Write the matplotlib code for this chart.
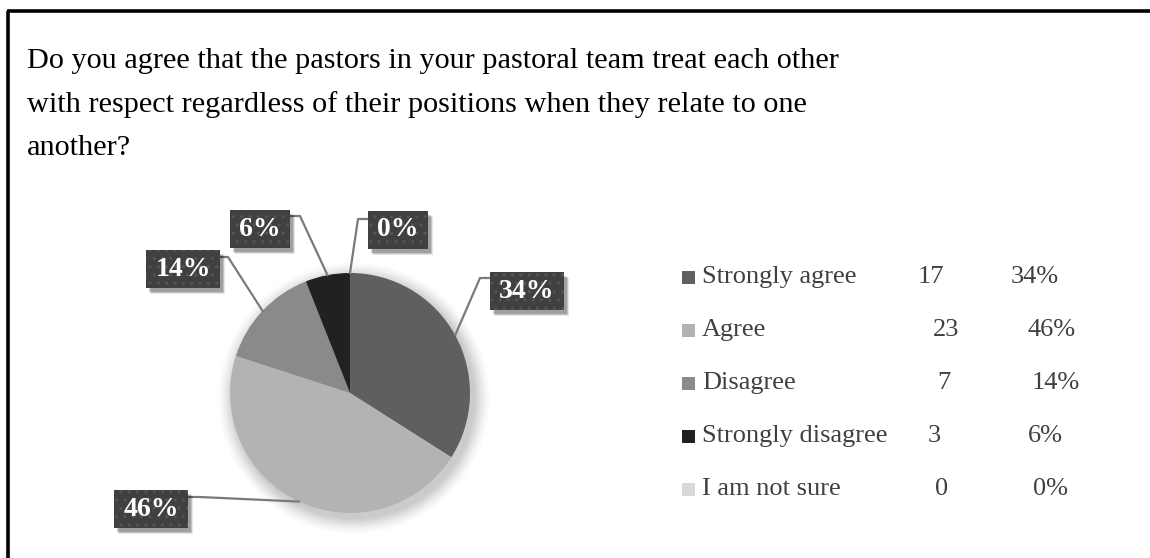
import matplotlib
matplotlib.use("Agg")
import matplotlib.pyplot as plt
from matplotlib.lines import Line2D
from matplotlib.patches import Circle, Rectangle
import numpy as np

# Survey responses
categories = ["Strongly agree", "Agree", "Disagree", "Strongly disagree", "I am not sure"]
counts = [17, 23, 7, 3, 0]
percents = [34, 46, 14, 6, 0]
colors = ["#5f5f5f", "#b3b3b3", "#8a8a8a", "#212121", "#d9d9d9"]

title_lines = ["Do you agree that the pastors in your pastoral team treat each other",
               "with respect regardless of their positions when they relate to one",
               "another?"]

W, H = 1150, 558
fig = plt.figure(figsize=(W / 100, H / 100), dpi=100)
fig.patch.set_facecolor("white")

# one axes spanning the figure, data units = pixels (y measured upward)
ax = fig.add_axes([0, 0, 1, 1])

def py(y):
    """convert a top-down pixel row to the upward data axis"""
    return H - y

serif = ["Liberation Serif", "DejaVu Serif"]

# pie with a soft shadow behind it
cx, cy, R = 350, py(393), 120
for k, a in zip(range(16, 0, -1), np.linspace(0.010, 0.045, 16)):
    ax.add_patch(Circle((cx + 4, cy - 5), R + k, color="#808080", alpha=a, lw=0, zorder=1))

ax.pie(counts, colors=colors, startangle=90, counterclock=False,
       center=(cx, cy), radius=R, wedgeprops=dict(linewidth=0, zorder=2))
ax.set_xlim(0, W)
ax.set_ylim(0, H)
ax.set_aspect("equal")
ax.axis("off")

# frame lines on the left and top
ax.add_line(Line2D([8, 8], [py(11), py(H + 5)], color="black", lw=2.6, solid_capstyle="butt"))
ax.add_line(Line2D([7, W + 5], [py(11), py(11)], color="black", lw=2.6, solid_capstyle="butt"))

# title, one line at a time
for j, line in enumerate(title_lines):
    ax.text(27, py(61 + 43.5 * j), line, fontsize=21.8, family=serif, color="#000000",
            ha="left", va="center")

# data-label boxes: centre positions and leader-line elbows (pixels)
label_pos = [(527, 291), (151, 509), (183, 269), (260, 229), (398, 230)]
elbows = [(480, 278), (200, 497), (228, 257), (300, 216), (358, 219)]
box_edge = [491, 187, 218, 288, 370]

fig.canvas.draw()
renderer = fig.canvas.get_renderer()

fracs = np.cumsum([0] + counts) / sum(counts)
for i, pct in enumerate(percents):
    mid = (fracs[i] + fracs[i + 1]) / 2
    ang = np.deg2rad(90 - 360 * mid)
    ex, ey = cx + R * np.cos(ang), cy + R * np.sin(ang)
    bx, by = elbows[i]
    ax.add_line(Line2D([ex, bx, box_edge[i]], [ey, py(by), py(by)],
                       color="#7a7a7a", lw=1.6, zorder=3))
    lx, ly = label_pos[i]
    t = ax.text(lx, py(ly), f"{pct}%", fontsize=20, fontweight="bold", family=serif,
                color="white", ha="center", va="center", zorder=6)
    tw = t.get_window_extent(renderer).width
    bw, bh = tw + 19, 38
    x0, y0 = lx - bw / 2, py(ly) - bh / 2
    # soft drop shadow
    for dx, dy, a in [(5, -6, 0.10), (4, -5, 0.14), (3, -4, 0.18)]:
        ax.add_patch(Rectangle((x0 + dx, y0 + dy), bw, bh, facecolor="black",
                               alpha=a, lw=0, zorder=4))
    ax.add_patch(Rectangle((x0, y0), bw, bh, facecolor="#404040", lw=0, zorder=5))
    ax.add_patch(Rectangle((x0, y0), bw, bh, facecolor="none", edgecolor="#555555",
                           hatch="..", lw=0, zorder=5))

# legend table
row_y = [277, 330, 383, 436, 489]
count_x = [918, 933, 937, 928, 935]
pct_x = [1011, 1027, 1032, 1028, 1033]
legend_color = "#404040"
for i, name in enumerate(categories):
    y = py(row_y[i])
    ax.add_patch(Rectangle((682, y - 7), 13, 13, facecolor=colors[i], lw=0))
    ax.text(702, y, name, fontsize=19, family=serif, color=legend_color, va="center", ha="left")
    ax.text(count_x[i], y, f"{counts[i]}", fontsize=19, family=serif, color=legend_color,
            va="center", ha="left")
    ax.text(pct_x[i], y, f"{percents[i]}%", fontsize=19, family=serif, color=legend_color,
            va="center", ha="left")

fig.savefig("out.png", dpi=100)
